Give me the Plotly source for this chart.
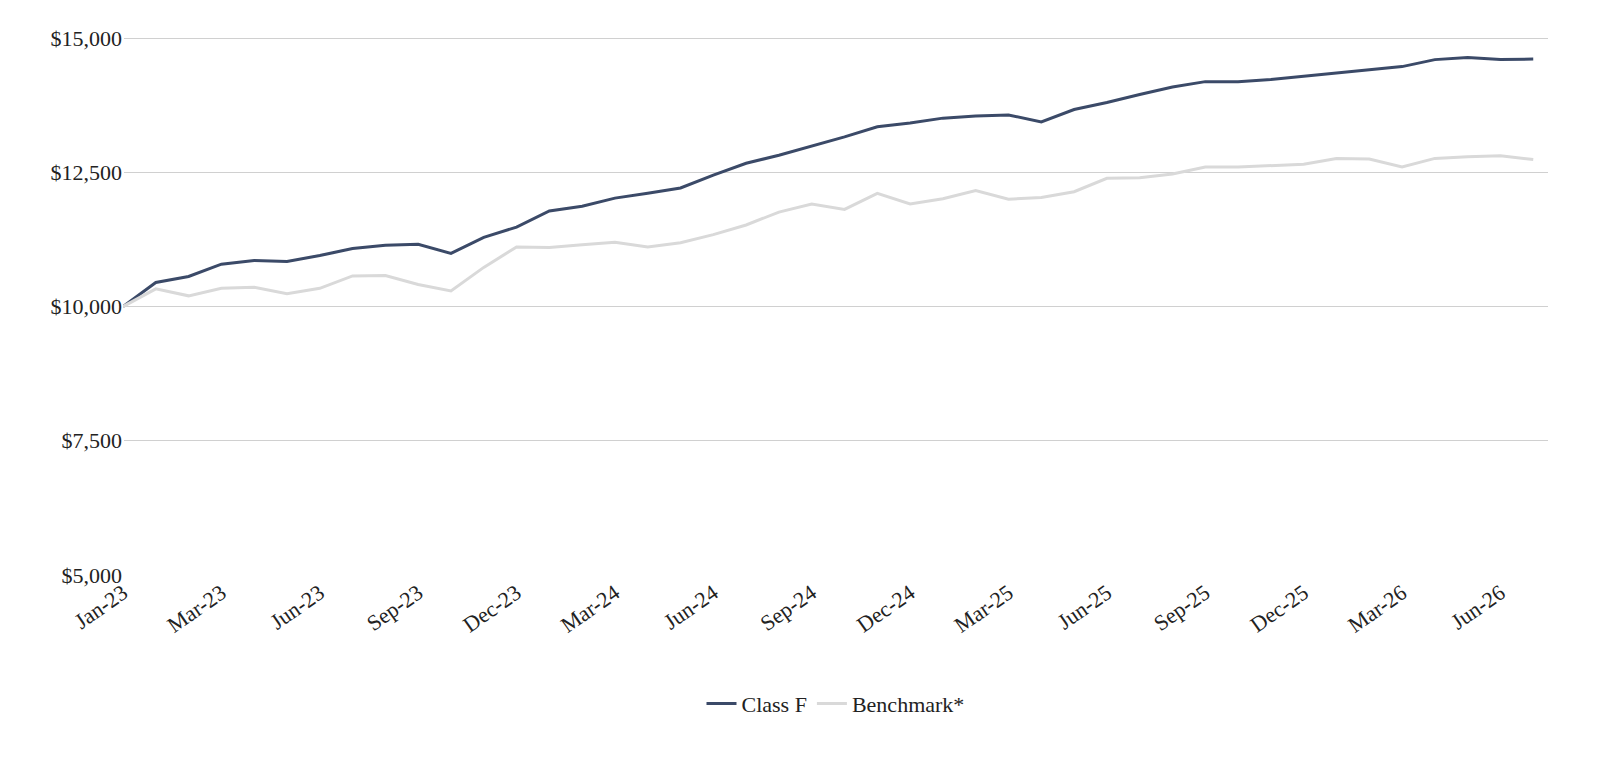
import plotly.graph_objects as go

tick_labels = ["Jan-23", "Mar-23", "Jun-23", "Sep-23", "Dec-23", "Mar-24", "Jun-24", "Sep-24",
               "Dec-24", "Mar-25", "Jun-25", "Sep-25", "Dec-25", "Mar-26", "Jun-26"]

class_f = [10000, 10450, 10560, 10790, 10860, 10840, 10950, 11080, 11140, 11160, 10990,
           11290, 11480, 11780, 11870, 12020, 12110, 12210, 12450, 12670, 12820, 12990,
           13160, 13350, 13420, 13510, 13550, 13570, 13440, 13670, 13800, 13950, 14090,
           14190, 14190, 14230, 14290, 14340, 14400, 14470, 14600, 14640, 14600, 14610]

benchmark = [10000, 10330, 10200, 10340, 10360, 10240, 10340, 10570, 10580, 10410, 10290,
             10730, 11110, 11100, 11150, 11200, 11110, 11190, 11340, 11520, 11760, 11910,
             11810, 12110, 11910, 12010, 12160, 12000, 12030, 12140, 12390, 12400, 12470,
             12600, 12600, 12630, 12650, 12760, 12750, 12600, 12760, 12790, 12810, 12740]

x = list(range(len(class_f)))
tick_pos = [round(i * (len(x) - 1) / 14.35) for i in range(len(tick_labels))]

fig = go.Figure()
fig.add_trace(go.Scatter(x=x, y=class_f, mode="lines", name="Class F",
                         line=dict(color="#3B4A68", width=3)))
fig.add_trace(go.Scatter(x=x, y=benchmark, mode="lines", name="Benchmark*",
                         line=dict(color="#D9D9D9", width=3)))

font = "Liberation Serif, Times New Roman, serif"
fig.update_layout(
    width=1622, height=759, plot_bgcolor="white", paper_bgcolor="white",
    margin=dict(l=115, r=82, t=28, b=192),
    font=dict(family=font, size=22, color="#222"),
    legend=dict(orientation="h", x=0.5, xanchor="center", y=-0.2, yanchor="top",
                font=dict(size=22)),
    xaxis=dict(tickvals=tick_pos, ticktext=tick_labels, tickangle=-35,
               range=[0, len(x) - 0.55], showgrid=False, showline=False, ticks=""),
    yaxis=dict(range=[5000, 15040], tickvals=[5000, 7500, 10000, 12500, 15000],
               tickformat="$,.0f", gridcolor="#D0D0D0", zeroline=False),
)
fig.write_html("out.html")
